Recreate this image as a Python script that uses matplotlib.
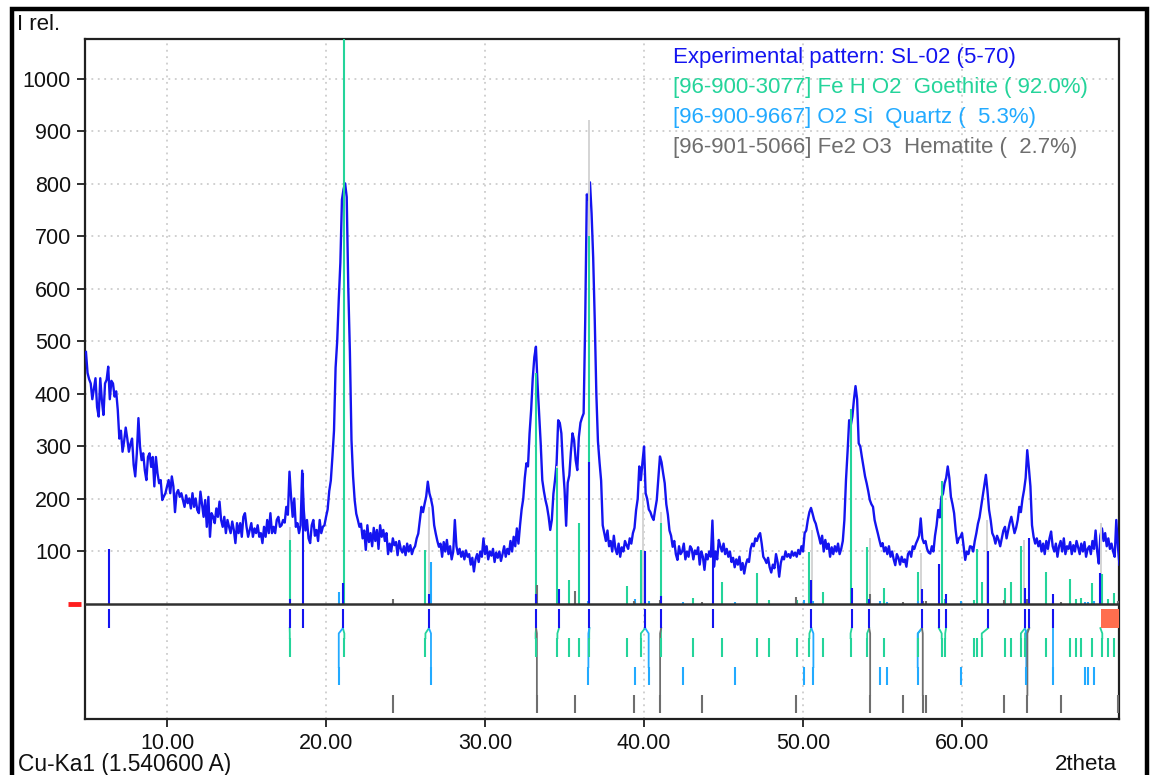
import numpy as np
import matplotlib
matplotlib.use("Agg")
import matplotlib.pyplot as plt
from matplotlib.patches import Rectangle

plt.rcParams['font.family'] = ['Liberation Sans', 'DejaVu Sans']

# ---------------- data ----------------
scan_start = 4.9
scan_step = 0.1
counts = [
    480,
    440, 428, 420, 390, 410, 430, 375, 357, 430, 388,   # 5
    360, 420, 427, 452, 390, 425, 420, 395, 405, 370,   # 6
    315, 330, 290, 310, 336, 315, 290, 305, 315, 265,   # 7
    243, 287, 354, 300, 274, 287, 255, 236, 280, 287,   # 8
    261, 280, 224, 280, 249, 230, 236, 198, 205, 211,   # 9
    224, 236, 211, 243, 224, 175, 211, 217, 204, 211,   # 10
    198, 185, 207, 192, 201, 182, 211, 185, 201, 179,   # 11
    173, 214, 190, 166, 198, 147, 204, 128, 173, 166,   # 12
    154, 182, 166, 195, 160, 147, 166, 135, 160, 147,   # 13
    135, 157, 141, 116, 154, 135, 154, 128, 166, 173,   # 14
    147, 128, 141, 154, 128, 144, 135, 150, 128, 135,   # 15
    116, 147, 128, 160, 135, 173, 135, 147, 135, 160,   # 16
    166, 147, 150, 160, 155, 185, 170, 252, 204, 166,   # 17
    201, 147, 154, 135, 150, 254, 179, 140, 160, 125,   # 18
    116, 150, 160, 130, 141, 120, 160, 135, 147, 150,   # 19
    166, 180, 215, 235, 280, 330, 450, 500, 580, 650,   # 20
    770, 790, 801, 775, 600, 480, 312, 243, 198, 172,   # 21
    160, 147, 153, 125, 140, 103, 150, 118, 135, 110,   # 22
    145, 120, 141, 105, 150, 128, 141, 120, 135, 95,    # 23
    115, 100, 125, 112, 118, 93, 120, 105, 98, 110,     # 24
    93, 115, 100, 112, 95, 105, 110, 125, 134, 160,     # 25
    185, 175, 191, 205, 233, 211, 200, 185, 150, 134,   # 26
    120, 109, 115, 90, 118, 100, 122, 95, 110, 85,      # 27
    100, 160, 110, 95, 105, 90, 100, 85, 102, 90,       # 28
    95, 75, 88, 62, 85, 95, 80, 100, 90, 125,           # 29
    95, 110, 85, 100, 92, 105, 80, 98, 88, 100,         # 30
    82, 95, 110, 90, 105, 95, 120, 100, 128, 110,       # 31
    144, 115, 150, 180, 200, 240, 268, 262, 325, 370,   # 32
    430, 470, 490, 420, 363, 306, 236, 215, 198, 185,   # 33
    166, 141, 160, 210, 236, 268, 350, 345, 325, 263,   # 34
    218, 149, 231, 245, 290, 325, 312, 274, 255, 318,   # 35
    345, 355, 363, 540, 780, 770, 803, 744, 660, 540,   # 36
    400, 310, 270, 235, 150, 135, 120, 140, 110, 120,   # 37
    100, 130, 105, 95, 115, 90, 108, 100, 120, 112,     # 38
    105, 125, 115, 135, 145, 179, 200, 262, 236, 270,   # 39
    300, 211, 200, 180, 175, 166, 160, 180, 198, 240,   # 40
    281, 270, 249, 230, 190, 170, 140, 130, 109, 120,   # 41
    95, 84, 110, 95, 100, 115, 85, 100, 90, 110,        # 42
    105, 85, 102, 95, 108, 75, 100, 90, 65, 95,         # 43
    85, 100, 90, 159, 71, 100, 85, 122, 110, 100,       # 44
    115, 95, 105, 90, 100, 80, 88, 70, 85, 75,          # 45
    90, 65, 78, 58, 75, 85, 80, 105, 115, 110,          # 46
    125, 120, 130, 135, 115, 90, 85, 78, 88, 70,        # 47
    60, 75, 68, 95, 80, 52, 78, 90, 85, 100,            # 48
    90, 95, 88, 100, 92, 98, 90, 103, 95, 110,          # 49
    100, 135, 140, 160, 175, 183, 172, 160, 153, 140,   # 50
    128, 115, 130, 100, 122, 105, 115, 90, 108, 95,     # 51
    110, 100, 115, 95, 105, 120, 160, 236, 290, 350,    # 52
    340, 357, 389, 415, 390, 306, 300, 280, 262, 243,   # 53
    230, 215, 198, 190, 185, 160, 147, 135, 122, 110,   # 54
    116, 100, 108, 95, 110, 90, 100, 85, 74, 95,        # 55
    88, 75, 90, 80, 85, 71, 95, 100, 90, 110,           # 56
    105, 115, 122, 130, 163, 125, 116, 120, 105, 98,    # 57
    96, 110, 100, 130, 150, 179, 165, 204, 210, 230,    # 58
    240, 262, 240, 204, 190, 173, 140, 116, 125, 128,   # 59
    135, 110, 84, 100, 95, 110, 109, 100, 120, 135,     # 60
    153, 165, 185, 205, 224, 246, 215, 179, 160, 135,   # 61
    128, 115, 130, 122, 110, 125, 140, 147, 125, 140,   # 62
    155, 166, 150, 135, 145, 160, 185, 175, 200, 217,   # 63
    240, 293, 260, 224, 150, 128, 115, 125, 110, 120,   # 64
    100, 115, 95, 120, 105, 125, 138, 110, 100, 115,    # 65
    90, 110, 120, 100, 125, 95, 110, 105, 118, 95,      # 66
    112, 100, 120, 108, 95, 115, 100, 118, 90, 105,     # 67
    110, 95, 120, 105, 140, 100, 77, 130, 144, 120,     # 68
    135, 110, 125, 105, 115, 100, 90, 160, 110, 75,     # 69
]

# experimental peak list (blue sticks)
exp_peak_pos = [6.36, 17.71, 18.54, 21.06, 26.47, 33.21, 34.65, 36.56, 40.07, 41.08,
                44.34, 50.52, 53.06, 54.16, 57.48, 58.54, 58.99, 61.64, 63.96, 64.22,
                65.75, 68.70]
exp_peak_h = [105, 10, 250, 40, 20, 20, 29, 270, 100, 15,
              120, 46, 30, 10, 28, 77, 20, 101, 30, 125,
              20, 59]

# combined calculated sticks (light grey)
calc_pos = [17.72, 26.50, 34.55, 36.52, 39.95, 41.05, 50.55, 54.20, 57.40, 61.60, 63.88, 68.75]
calc_h = [147, 185, 263, 922, 211, 175, 141, 126, 97, 160, 122, 154]

# Goethite
goethite_pos = [17.72, 21.15, 26.25, 33.18, 34.55, 35.27, 35.90, 36.55, 38.93, 39.80,
                41.08, 43.06, 44.90, 47.10, 47.87, 49.62, 50.40, 51.24, 52.99, 54.03,
                55.12, 57.23, 58.72, 58.94, 60.74, 60.96, 61.24, 62.68, 63.08, 63.70,
                63.96, 65.29, 66.82, 67.15, 67.48, 68.18, 68.82, 69.21, 69.56]
goethite_h = [122, 1090, 103, 440, 259, 46, 155, 700, 34, 103,
              155, 11, 42, 59, 8, 8, 99, 23, 371, 109,
              31, 61, 234, 10, 8, 105, 42, 31, 42, 110,
              10, 61, 48, 10, 12, 40, 57, 10, 21]
goethite_match = [(17.72, 17.71), (21.15, 21.06), (26.25, 26.47), (33.18, 33.21),
                  (34.55, 34.65), (36.55, 36.56), (39.80, 40.07), (41.08, 41.08),
                  (50.40, 50.52), (52.99, 53.06), (54.03, 54.16), (57.23, 57.48),
                  (58.72, 58.54), (58.94, 58.99), (61.24, 61.64), (63.70, 63.96),
                  (63.96, 64.22), (68.82, 68.70)]

# Quartz
quartz_pos = [20.80, 26.60, 36.50, 39.46, 40.29, 42.47, 45.75, 50.07, 50.65, 54.85,
              55.30, 57.21, 59.91, 64.04, 65.75, 67.71, 67.93, 68.27]
quartz_h = [22, 80, 6, 10, 5, 4, 4, 8, 5, 5, 4, 6, 5, 8, 4, 4, 4, 5]
quartz_match = [(20.80, 21.06), (26.60, 26.47), (36.50, 36.56), (40.29, 40.07),
                (50.65, 50.52), (57.21, 57.48), (64.04, 63.96), (65.75, 65.75)]

# Hematite
hematite_pos = [24.20, 33.26, 35.66, 39.39, 41.01, 43.62, 49.55, 54.22, 56.31, 57.53,
                57.75, 62.61, 64.11, 66.20, 69.80]
hematite_h = [10, 36, 25, 6, 8, 4, 13, 19, 4, 6, 5, 8, 10, 4, 6]
hematite_match = [(33.26, 33.21), (41.01, 41.08), (54.22, 54.16), (57.53, 57.48),
                  (64.11, 64.22)]

legend_lines = [
    "Experimental pattern: SL-02 (5-70)",
    "[96-900-3077] Fe H O2  Goethite ( 92.0%)",
    "[96-900-9667] O2 Si  Quartz (  5.3%)",
    "[96-901-5066] Fe2 O3  Hematite (  2.7%)",
]

# ---------------- styles ----------------
C_EXP = '#1414F0'
C_GOE = '#24D49A'
C_QTZ = '#22AAFF'
C_HEM = '#6E6E6E'
C_CALC = '#D4D4D4'

ROW_EXP = (-10, -46)
ROW_GOE = (-65, -101)
ROW_QTZ = (-120, -154)
ROW_HEM = (-173, -208)
LINK_Y = -56

W, H = 1161, 775
fig = plt.figure(figsize=(W / 100, H / 100), dpi=100)
ax = fig.add_axes([85 / W, 1 - 719 / H, (1119.3 - 85) / W, (719 - 39) / H])
ax.set_xlim(4.84, 69.89)
ax.set_ylim(-219, 1076)

# grid
ax.set_yticks(np.arange(100, 1001, 100))
ax.set_xticks(np.arange(10, 61, 10))
ax.set_xticklabels([f"{v:.2f}" for v in np.arange(10, 61, 10)])
ax.grid(True, color='#C4C4C4', linestyle=(0, (1.2, 3)), linewidth=1.1, zorder=0)
ax.set_axisbelow(True)

# pattern
two_theta = scan_start + scan_step * np.arange(len(counts))
ax.plot(two_theta, counts, color=C_EXP, lw=1.7, zorder=3)

# sticks
ax.vlines(calc_pos, 0, calc_h, color=C_CALC, lw=1.4, zorder=4)
ax.vlines(goethite_pos, 0, goethite_h, color=C_GOE, lw=1.5, zorder=5)
ax.vlines(quartz_pos, 0, quartz_h, color=C_QTZ, lw=1.5, zorder=5)
ax.vlines(hematite_pos, 0, hematite_h, color=C_HEM, lw=1.5, zorder=5)
ax.vlines(exp_peak_pos, 0, exp_peak_h, color=C_EXP, lw=1.5, zorder=6)

# zero line
ax.axhline(0, color='#303030', lw=1.8, zorder=7)

# tick rows below zero
ax.vlines(exp_peak_pos[:-1], ROW_EXP[1], ROW_EXP[0], color=C_EXP, lw=1.5, zorder=5)
for pos_list, row, col, matches in [
        (goethite_pos, ROW_GOE, C_GOE, goethite_match),
        (quartz_pos, ROW_QTZ, C_QTZ, quartz_match),
        (hematite_pos, ROW_HEM, C_HEM, hematite_match)]:
    ax.vlines(pos_list, row[1], row[0], color=col, lw=1.5, zorder=5)
    for p, e in matches:
        ax.plot([p, p, e], [row[0], LINK_Y, ROW_EXP[1]], color=col, lw=1.3, zorder=4)

# orange marker block at right in the peak row
ax.add_patch(Rectangle((68.72, ROW_EXP[1]), 69.89 - 68.72, ROW_EXP[0] - ROW_EXP[1],
                       facecolor='#FF6E4E', edgecolor='none', zorder=6))
# red marker at left of zero line
ax.plot([3.75, 4.6], [0, 0], color='#FF1E1E', lw=3.5, solid_capstyle='butt',
        clip_on=False, zorder=8)

# axes styling
for s in ax.spines.values():
    s.set_color('#202020')
    s.set_linewidth(1.6)
ax.tick_params(axis='both', direction='out', length=6, width=1.4, color='#303030',
               labelsize=15.5, labelcolor='#111111', pad=4)

# texts
fs = 16
fig.text(17 / W, 1 - 25 / H, "I rel.", fontsize=fs, va='center', ha='left', color='#111111')
fig.text(18 / W, 1 - 764 / H, "Cu-Ka1 (1.540600 A)", fontsize=16.4, va='center', ha='left',
         color='#111111')
fig.text(1117 / W, 1 - 764 / H, "2theta", fontsize=fs, va='center', ha='right', color='#111111')
leg_cols = [C_EXP, C_GOE, C_QTZ, C_HEM]
leg_y = [57, 88, 117, 148]
for t, c, y in zip(legend_lines, leg_cols, leg_y):
    fig.text(673 / W, 1 - y / H, t, fontsize=fs, va='center', ha='left', color=c)

# thick outer frame
fig.patches.append(Rectangle((11.5 / W, -0.05), (1147 - 11.5) / W, 1.05 - 8.5 / H,
                             transform=fig.transFigure, fill=False, edgecolor='black',
                             linewidth=3.2))

fig.savefig("out.png", dpi=100)
